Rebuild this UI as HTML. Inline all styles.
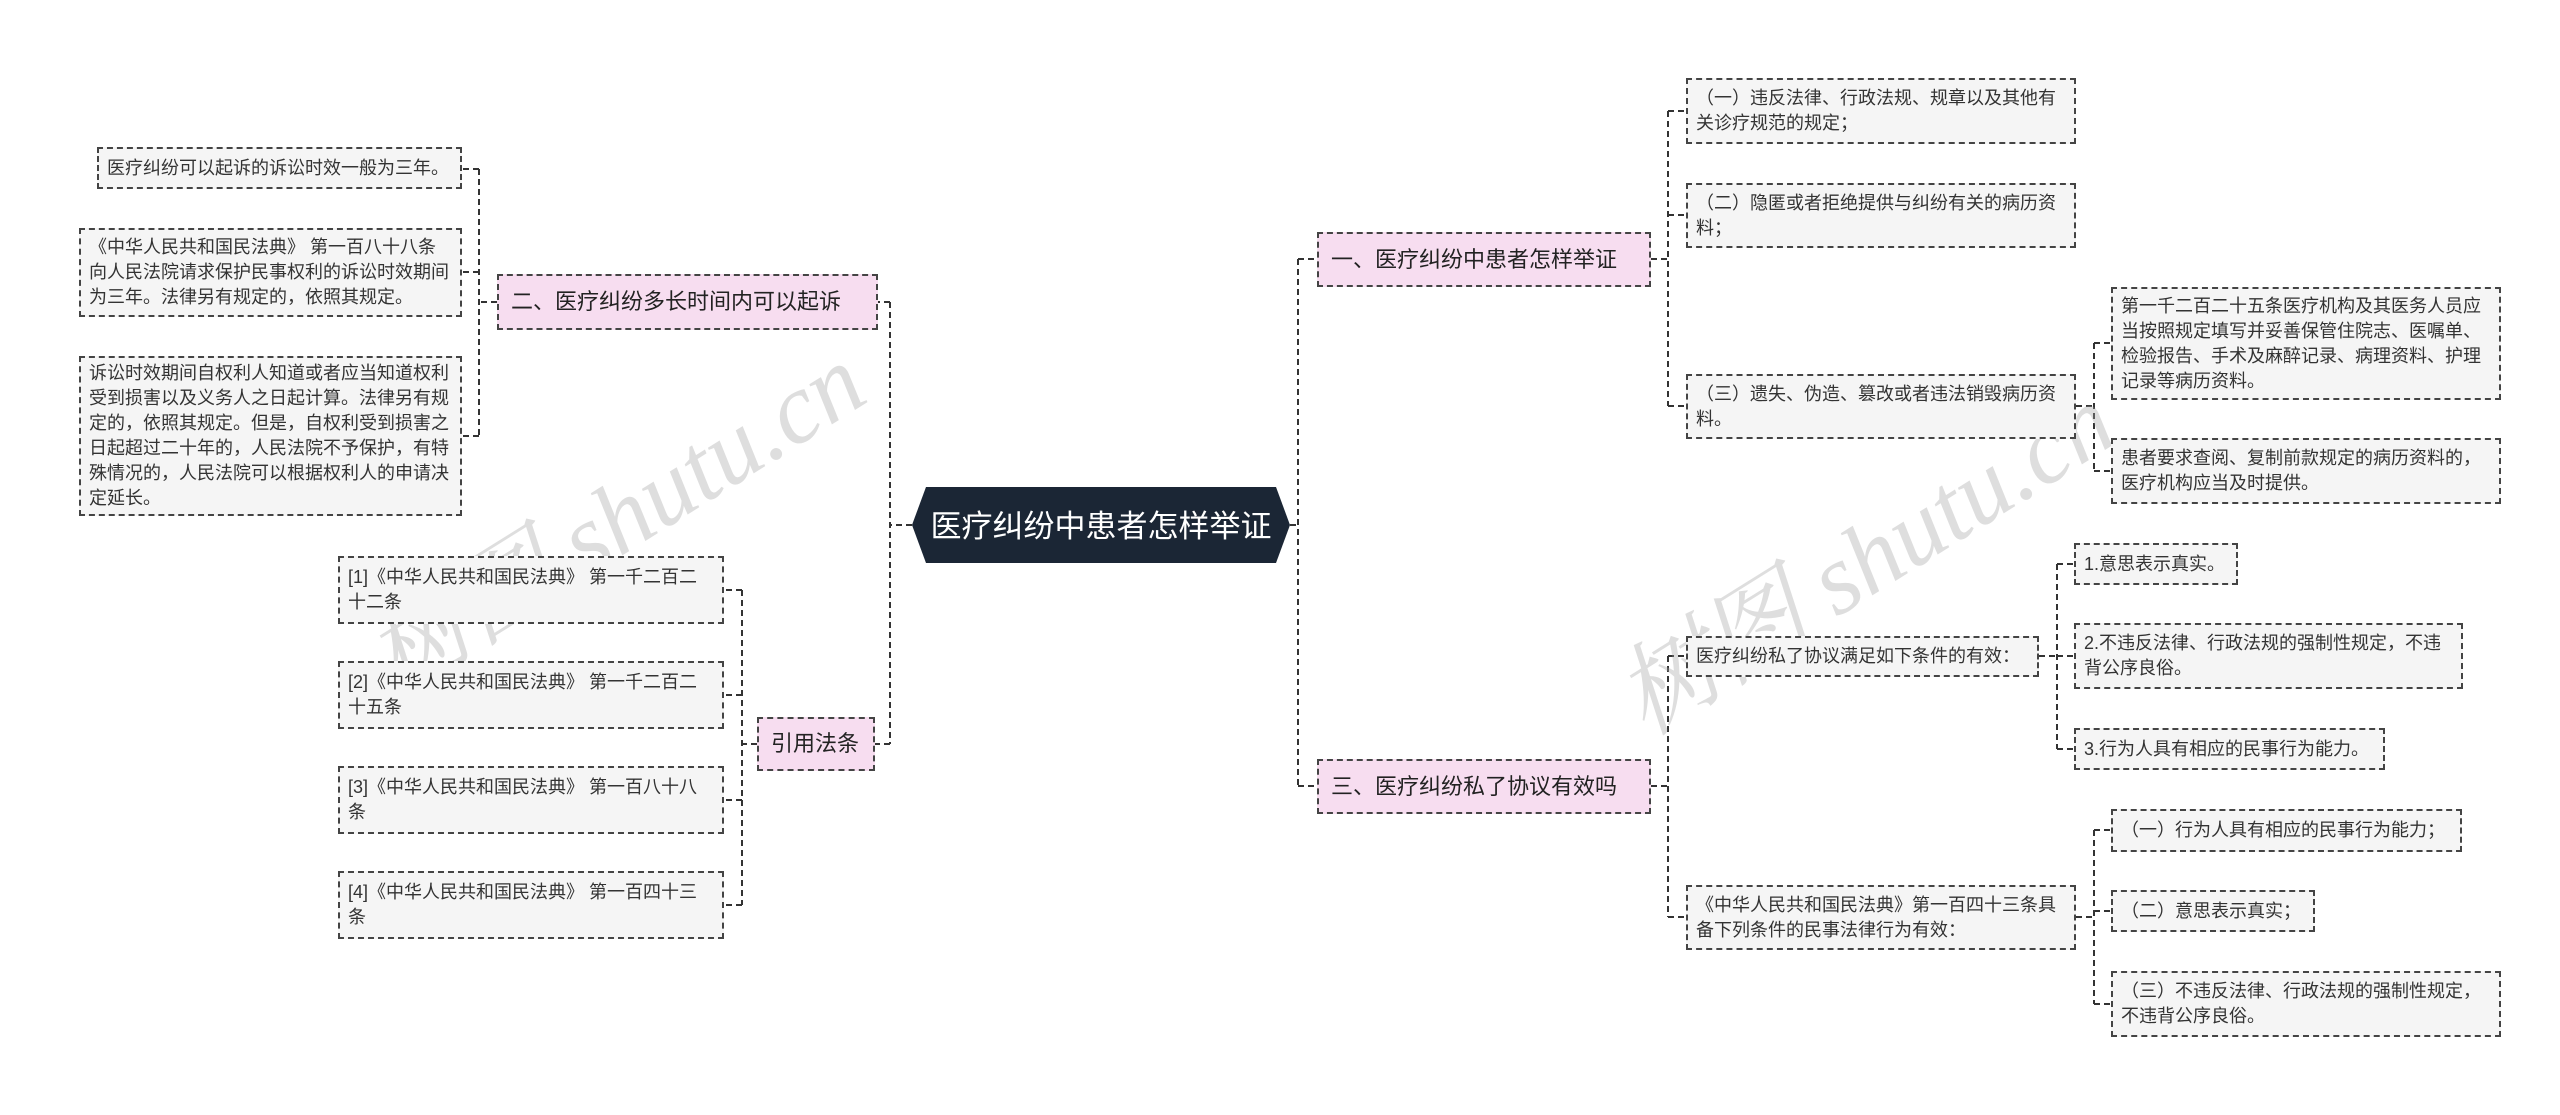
<!DOCTYPE html>
<html><head><meta charset="utf-8"><style>
html,body{margin:0;padding:0;background:#fff;}
body{width:2560px;height:1115px;position:relative;overflow:hidden;font-family:"Liberation Sans","Noto Sans CJK SC",sans-serif;}
.b{position:absolute;box-sizing:border-box;border:2px dashed #444;background:#f5f5f5;color:#333;font-size:18px;line-height:25px;padding:4px 8px;display:flex;align-items:center;}
.n{white-space:nowrap;}
.br{background:#f7ddf0;font-size:22px;line-height:28px;color:#222;padding:4px 12px;white-space:nowrap;}
.wm{position:absolute;color:rgba(160,160,160,0.35);font-family:"Liberation Serif","Noto Serif CJK SC",serif;font-style:italic;font-size:100px;white-space:nowrap;transform:rotate(-32deg);transform-origin:center;}
svg{position:absolute;left:0;top:0;}
</style></head><body>
<svg width="2560" height="1115">
<g stroke="#333" stroke-width="2" stroke-dasharray="6,4" fill="none">
<path d="M912 525 H890 M890 302 V744 M890 302 H878 M890 744 H875"/>
<path d="M497 302 H479 M479 169 V436 M479 169 H462 M479 272 H462 M479 436 H462"/>
<path d="M757 744 H742 M742 590 V905 M742 590 H724 M742 695 H724 M742 800 H724 M742 905 H724"/>
<path d="M1290 525 H1298 M1298 259 V786 M1298 259 H1317 M1298 786 H1317"/>
<path d="M1651 259 H1668 M1668 111 V406 M1668 111 H1686 M1668 215 H1686 M1668 406 H1686"/>
<path d="M2076 406 H2094 M2094 343 V471 M2094 343 H2111 M2094 471 H2111"/>
<path d="M1651 786 H1668 M1668 656 V917 M1668 656 H1686 M1668 917 H1686"/>
<path d="M2039 656 H2057 M2057 564 V749 M2057 564 H2074 M2057 656 H2074 M2057 749 H2074"/>
<path d="M2076 917 H2094 M2094 830 V1004 M2094 830 H2111 M2094 911 H2111 M2094 1004 H2111"/>
</g>
<polygon points="926,487 1276,487 1290,525 1276,563 926,563 912,525" fill="#1b2635"/>
<text x="1101" y="537" fill="#fff" font-size="31" text-anchor="middle" font-family="Liberation Sans, Noto Sans CJK SC, sans-serif">医疗纠纷中患者怎样举证</text>
</svg>
<div class="wm" style="left:330px;top:440px;">树图 shutu.cn</div>
<div class="wm" style="left:1580px;top:480px;">树图 shutu.cn</div>

<div class="b br" style="left:497px;top:274px;width:381px;height:56px;">二、医疗纠纷多长时间内可以起诉</div>
<div class="b n" style="left:97px;top:147px;width:365px;height:42px;">医疗纠纷可以起诉的诉讼时效一般为三年。</div>
<div class="b" style="left:79px;top:228px;width:383px;height:89px;">《中华人民共和国民法典》 第一百八十八条向人民法院请求保护民事权利的诉讼时效期间为三年。法律另有规定的，依照其规定。</div>
<div class="b" style="left:79px;top:356px;width:383px;height:160px;">诉讼时效期间自权利人知道或者应当知道权利受到损害以及义务人之日起计算。法律另有规定的，依照其规定。但是，自权利受到损害之日起超过二十年的，人民法院不予保护，有特殊情况的，人民法院可以根据权利人的申请决定延长。</div>

<div class="b br" style="left:757px;top:717px;width:118px;height:54px;">引用法条</div>
<div class="b" style="left:338px;top:556px;width:386px;height:68px;">[1]《中华人民共和国民法典》 第一千二百二十二条</div>
<div class="b" style="left:338px;top:661px;width:386px;height:68px;">[2]《中华人民共和国民法典》 第一千二百二十五条</div>
<div class="b" style="left:338px;top:766px;width:386px;height:68px;">[3]《中华人民共和国民法典》 第一百八十八条</div>
<div class="b" style="left:338px;top:871px;width:386px;height:68px;">[4]《中华人民共和国民法典》 第一百四十三条</div>

<div class="b br" style="left:1317px;top:232px;width:334px;height:55px;">一、医疗纠纷中患者怎样举证</div>
<div class="b" style="left:1686px;top:78px;width:390px;height:66px;">（一）违反法律、行政法规、规章以及其他有关诊疗规范的规定；</div>
<div class="b" style="left:1686px;top:183px;width:390px;height:65px;">（二）隐匿或者拒绝提供与纠纷有关的病历资料；</div>
<div class="b" style="left:1686px;top:374px;width:390px;height:65px;">（三）遗失、伪造、篡改或者违法销毁病历资料。</div>
<div class="b" style="left:2111px;top:287px;width:390px;height:113px;">第一千二百二十五条医疗机构及其医务人员应当按照规定填写并妥善保管住院志、医嘱单、检验报告、手术及麻醉记录、病理资料、护理记录等病历资料。</div>
<div class="b" style="left:2111px;top:438px;width:390px;height:66px;">患者要求查阅、复制前款规定的病历资料的，医疗机构应当及时提供。</div>

<div class="b br" style="left:1317px;top:759px;width:334px;height:55px;">三、医疗纠纷私了协议有效吗</div>
<div class="b n" style="left:1686px;top:636px;width:353px;height:41px;">医疗纠纷私了协议满足如下条件的有效：</div>
<div class="b n" style="left:2074px;top:543px;width:164px;height:42px;">1.意思表示真实。</div>
<div class="b" style="left:2074px;top:623px;width:389px;height:66px;">2.不违反法律、行政法规的强制性规定，不违背公序良俗。</div>
<div class="b n" style="left:2074px;top:728px;width:311px;height:42px;">3.行为人具有相应的民事行为能力。</div>
<div class="b" style="left:1686px;top:885px;width:390px;height:65px;">《中华人民共和国民法典》第一百四十三条具备下列条件的民事法律行为有效：</div>
<div class="b n" style="left:2111px;top:809px;width:351px;height:43px;">（一）行为人具有相应的民事行为能力；</div>
<div class="b n" style="left:2111px;top:890px;width:204px;height:42px;">（二）意思表示真实；</div>
<div class="b" style="left:2111px;top:971px;width:390px;height:66px;">（三）不违反法律、行政法规的强制性规定，不违背公序良俗。</div>
</body></html>
